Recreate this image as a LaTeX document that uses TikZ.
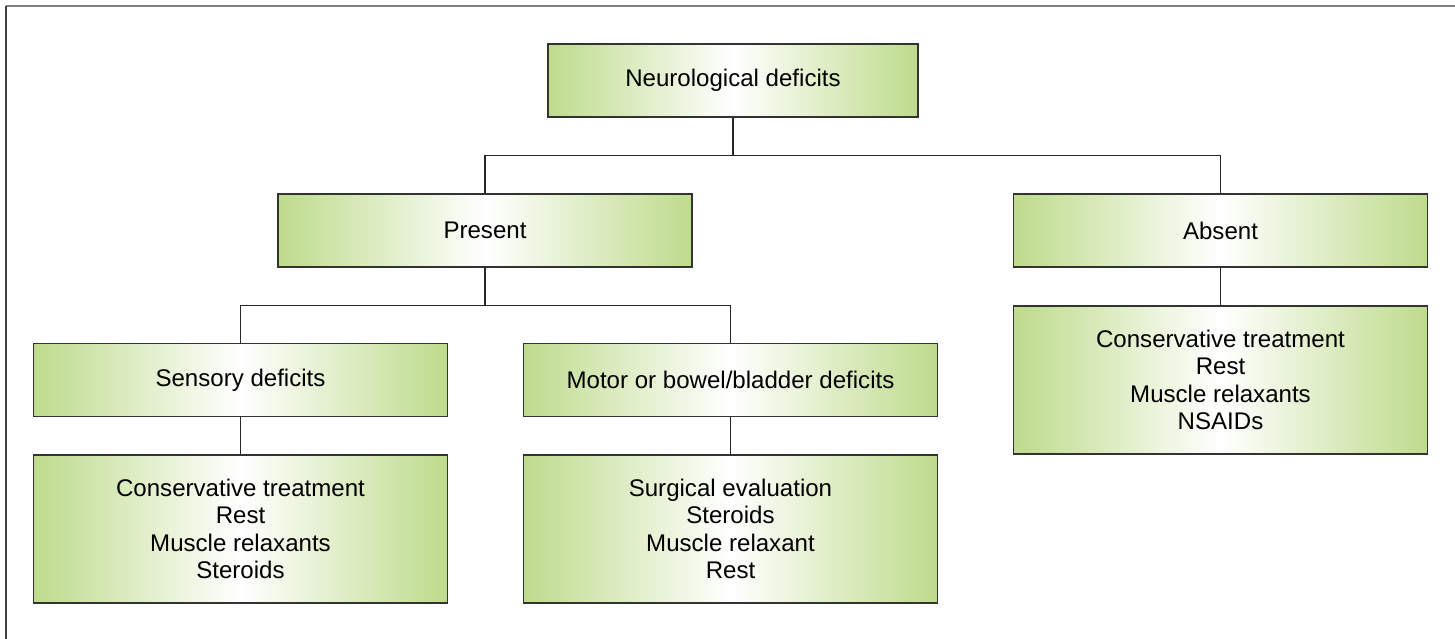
\documentclass[tikz,border=0pt]{standalone}
\usepackage{fontspec}
\setmainfont{Liberation Sans}
\definecolor{leafgreen}{RGB}{190,219,140}
\begin{document}
\begin{tikzpicture}[x=0.02cm,y=-0.02cm,
    box/.style={rectangle,draw=black!80,line width=0.8pt,
      left color=leafgreen,right color=leafgreen,middle color=white,
      minimum width=8.28cm,minimum height=1.46cm,align=center,inner sep=0pt},
    tall/.style={box,minimum height=2.96cm},
    link/.style={black!85,line width=0.6pt},
    every node/.style={font=\fontsize{13.7}{15.6}\selectfont}]
  \useasboundingbox (0,0) rectangle (1455,639);
  % outer rule
  \draw[black!50,line width=1.1pt] (6,6) -- (1455,6);
  \draw[black!75,line width=1.1pt] (6,6) -- (6,639);
  % the boxes
  \node[box,minimum width=7.4cm] (neuro) at (733,80.5) {Neurological deficits};
  \node[box] (present) at (485,230.5) {Present};
  \node[box] (absent)  at (1220.5,230.5) {Absent};
  \node[box] (sensory) at (240.5,380) {Sensory deficits};
  \node[box] (motor)   at (730.5,380) {Motor or bowel/bladder deficits};
  \node[tall] (restL)   at (240.5,529) {Conservative treatment\\Rest\\Muscle relaxants\\Steroids};
  \node[tall] (surgery) at (730.5,529) {Surgical evaluation\\Steroids\\Muscle relaxant\\Rest};
  \node[tall] (restR)   at (1220.5,380) {Conservative treatment\\Rest\\Muscle relaxants\\NSAIDs};
  % the tree
  \draw[link] (neuro.south) -- ++(0,38) -| (present.north);
  \draw[link] (neuro.south) -- ++(0,38) -| (absent.north);
  \draw[link] (present.south) -- ++(0,38) -| (sensory.north);
  \draw[link] (present.south) -- ++(0,38) -| (motor.north);
  \draw[link] (absent) -- (restR);
  \draw[link] (sensory) -- (restL);
  \draw[link] (motor) -- (surgery);
\end{tikzpicture}
\end{document}
